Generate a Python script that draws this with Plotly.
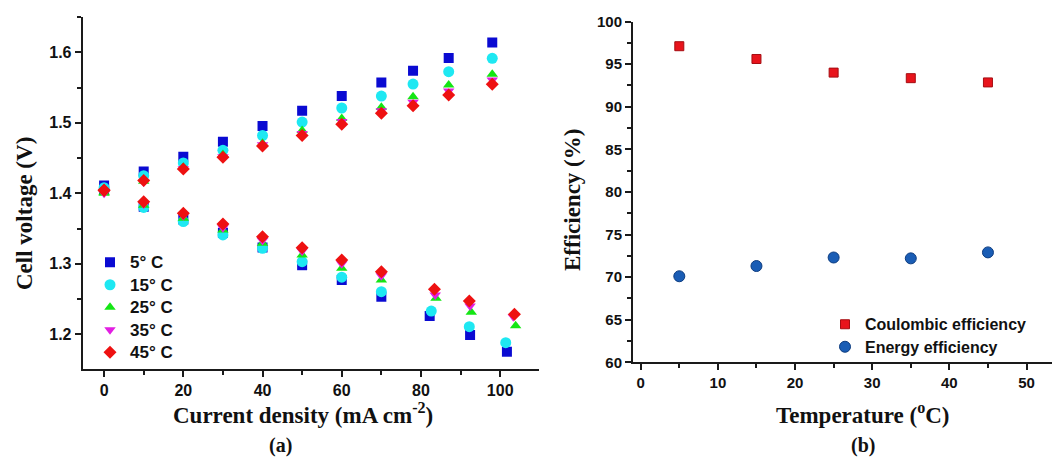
import plotly.graph_objects as go

W, H = 1054, 459

# ---- Panel (a): cell voltage vs current density at five temperatures ----
temps_a = ["5° C", "15° C", "25° C", "35° C", "45° C"]

charge_x = [0, 10, 20, 30, 40, 50, 60, 70, 78, 87, 98]
discharge_x_head = [0, 10, 20, 30, 40, 50, 60, 70]
discharge_x_tail = {
    "5° C": [82.2, 92.4, 101.7],
    "15° C": [82.6, 92.2, 101.4],
    "25° C": [83.8, 92.7, 103.9],
    "35° C": [83.6, 92.4, 103.3],
    "45° C": [83.4, 92.2, 103.6],
}

charge_v = {
    "5° C": [1.411, 1.431, 1.452, 1.473, 1.4955, 1.517, 1.538, 1.557, 1.574, 1.592, 1.614],
    "15° C": [1.408, 1.425, 1.443, 1.461, 1.482, 1.501, 1.521, 1.538, 1.555, 1.5725, 1.5915],
    "25° C": [1.401, 1.417, 1.437, 1.455, 1.471, 1.489, 1.506, 1.522, 1.537, 1.5536, 1.569],
    "35° C": [1.400, 1.416, 1.435, 1.452, 1.469, 1.485, 1.502, 1.517, 1.529, 1.545, 1.5607],
    "45° C": [1.404, 1.418, 1.4345, 1.451, 1.467, 1.482, 1.498, 1.5135, 1.5243, 1.5394, 1.5546],
}
discharge_v = {
    "5° C": [1.406, 1.381, 1.363, 1.344, 1.323, 1.298, 1.277, 1.2533, 1.226, 1.199, 1.1753],
    "15° C": [1.405, 1.380, 1.360, 1.341, 1.322, 1.303, 1.281, 1.2604, 1.233, 1.2108, 1.1881],
    "25° C": [1.400, 1.383, 1.3645, 1.348, 1.329, 1.3125, 1.2936, 1.277, 1.251, 1.2312, 1.2122],
    "35° C": [1.402, 1.385, 1.368, 1.351, 1.333, 1.318, 1.300, 1.283, 1.2557, 1.2401, 1.225],
    "45° C": [1.4047, 1.388, 1.3716, 1.3565, 1.3384, 1.3228, 1.3054, 1.2888, 1.2638, 1.2472, 1.2283],
}

# ---- Panel (b): efficiencies vs temperature ----
temps_b = [5, 15, 25, 35, 45]
coulombic_eff = [97.1, 95.6, 94.0, 93.35, 92.85]
energy_eff = [70.1, 71.3, 72.3, 72.2, 72.9]

styles_a = {
    "5° C": dict(symbol="square", color="#0a0ad2", size=10),
    "15° C": dict(symbol="circle", color="#1ee8f2", size=11),
    "25° C": dict(symbol="triangle-up", color="#14e614", size=10),
    "35° C": dict(symbol="triangle-down", color="#e21ee2", size=10),
    "45° C": dict(symbol="diamond", color="#ee1111", size=10),
}

SANS = "Liberation Sans"
SERIF = "Liberation Serif"
AX_COL = "#1a1a1a"

# small outer margin; all positions below are in page pixels
ML, MR, MT, MB = 2, 2, 2, 2
PW, PH = W - ML - MR, H - MT - MB


def px_x(p):
    return (p - ML) / PW


def px_y(p):
    return 1 - (p - MT) / PH


fig = go.Figure()

for t in temps_a:
    xs = charge_x + discharge_x_head + discharge_x_tail[t]
    ys = charge_v[t] + discharge_v[t]
    st = styles_a[t]
    fig.add_trace(go.Scatter(
        x=xs, y=ys, mode="markers", xaxis="x", yaxis="y",
        name=f"<span style='font-size:17px'>{t}</span>",
        legend="legend",
        marker=dict(symbol=st["symbol"], color=st["color"], size=st["size"],
                    line=dict(width=0)),
    ))

fig.add_trace(go.Scatter(
    x=temps_b, y=coulombic_eff, mode="markers", xaxis="x2", yaxis="y2",
    name="<span style='font-size:16px'>Coulombic efficiency</span>", legend="legend2",
    marker=dict(symbol="square", color="#e8141c", size=9,
                line=dict(width=1, color="#a50d12")),
))
fig.add_trace(go.Scatter(
    x=temps_b, y=energy_eff, mode="markers", xaxis="x2", yaxis="y2",
    name="<span style='font-size:16px'>Energy efficiency</span>", legend="legend2",
    marker=dict(symbol="circle", color="#1a5db5", size=11,
                line=dict(width=1, color="#0e3d80")),
))

tick_font = dict(family=SANS, size=16, color="#111", weight="bold")
tick_font_b = dict(family=SANS, size=15, color="#111", weight="bold")

A_L, A_R, A_T, A_B = 82.7, 539.0, 16.7, 369.0
B_L, B_T, B_B = 633.0, 21.5, 362.3

dom_ax = [px_x(A_L), px_x(A_R)]
dom_ay = [px_y(A_B), px_y(A_T)]
dom_bx = [px_x(B_L), 1.0]
dom_by = [px_y(B_B), px_y(B_T)]

range_ax = [-5.4, 109.8]
range_ay = [1.1508, 1.6505]
range_bx = [-1.0, 53.3]
range_by = [60, 100]

common = dict(showgrid=False, zeroline=False, showline=True, linecolor=AX_COL,
              linewidth=2, tickcolor=AX_COL, tickwidth=2)

fig.update_layout(
    template="simple_white",
    width=W, height=H,
    margin=dict(l=ML, r=MR, t=MT, b=MB, autoexpand=False),
    paper_bgcolor="white", plot_bgcolor="rgba(0,0,0,0)",
    showlegend=True,
    # panel (a): bottom/left axes with outward ticks
    xaxis=dict(domain=dom_ax, range=range_ax, anchor="y", ticks="outside",
               tick0=0, dtick=20, ticklen=6, tickfont=tick_font,
               minor=dict(dtick=10, ticks="outside", ticklen=4, tickcolor=AX_COL),
               **common),
    yaxis=dict(domain=dom_ay, range=range_ay, anchor="x", ticks="outside",
               tick0=1.2, dtick=0.1, ticklen=6, tickfont=tick_font,
               tickformat=".1f",
               minor=dict(dtick=0.05, ticks="outside", ticklen=4, tickcolor=AX_COL),
               **common),
    # panel (a): top/right frame axes with inward ticks
    xaxis3=dict(domain=dom_ax, range=range_ax, anchor="y", overlaying="x",
                side="top", ticks="inside", tick0=0, dtick=10, ticklen=6,
                showticklabels=False, **common),
    yaxis3=dict(domain=dom_ay, range=range_ay, anchor="x", overlaying="y",
                side="right", ticks="inside", tick0=1.2, dtick=0.05, ticklen=5,
                showticklabels=False, **common),
    # panel (b): bottom/left axes
    xaxis2=dict(domain=dom_bx, range=range_bx, anchor="y2", ticks="outside",
                tick0=0, dtick=10, ticklen=6, tickfont=tick_font_b,
                minor=dict(dtick=5, ticks="outside", ticklen=4, tickcolor=AX_COL),
                **common),
    yaxis2=dict(domain=dom_by, range=range_by, anchor="x2", ticks="outside",
                tick0=60, dtick=5, ticklen=6, tickfont=tick_font_b,
                minor=dict(dtick=2.5, ticks="outside", ticklen=4, tickcolor=AX_COL),
                **common),
    # panel (b): top frame axis with inward ticks
    xaxis4=dict(domain=dom_bx, range=range_bx, anchor="y2", overlaying="x2",
                side="top", ticks="inside", tick0=0, dtick=5, ticklen=6,
                showticklabels=False, **common),
    legend=dict(x=px_x(90), y=px_y(246), xanchor="left", yanchor="top",
                bgcolor="rgba(0,0,0,0)", borderwidth=0,
                font=dict(family=SANS, size=15, color="#111", weight="bold"),
                itemsizing="trace"),
    legend2=dict(x=px_x(825), y=px_y(308), xanchor="left", yanchor="top",
                 bgcolor="rgba(0,0,0,0)", borderwidth=0,
                 font=dict(family=SANS, size=15, color="#111", weight="bold"),
                 itemsizing="trace"),
)

title_font = dict(family=SERIF, size=23, color="#111", weight="bold")
label_font = dict(family=SERIF, size=20, color="#111", weight="bold")

annotations = [
    dict(text="Current density (mA cm<sup>-2</sup>)", x=px_x(303), y=px_y(413),
         font=title_font),
    dict(text="(a)", x=px_x(280), y=px_y(445), font=label_font),
    dict(text="Cell voltage (V)", x=px_x(24), y=px_y(214), textangle=-90,
         font=title_font),
    dict(text="Temperature (<sup>o</sup>C)", x=px_x(863), y=px_y(413),
         font=title_font),
    dict(text="(b)", x=px_x(863), y=px_y(445), font=label_font),
    dict(text="Efficiency (%)", x=px_x(572), y=px_y(200), textangle=-90,
         font=title_font),
]
for a in annotations:
    a.update(xref="paper", yref="paper", showarrow=False,
             xanchor="center", yanchor="middle")
fig.update_layout(annotations=annotations)

fig.write_html("out.html")
